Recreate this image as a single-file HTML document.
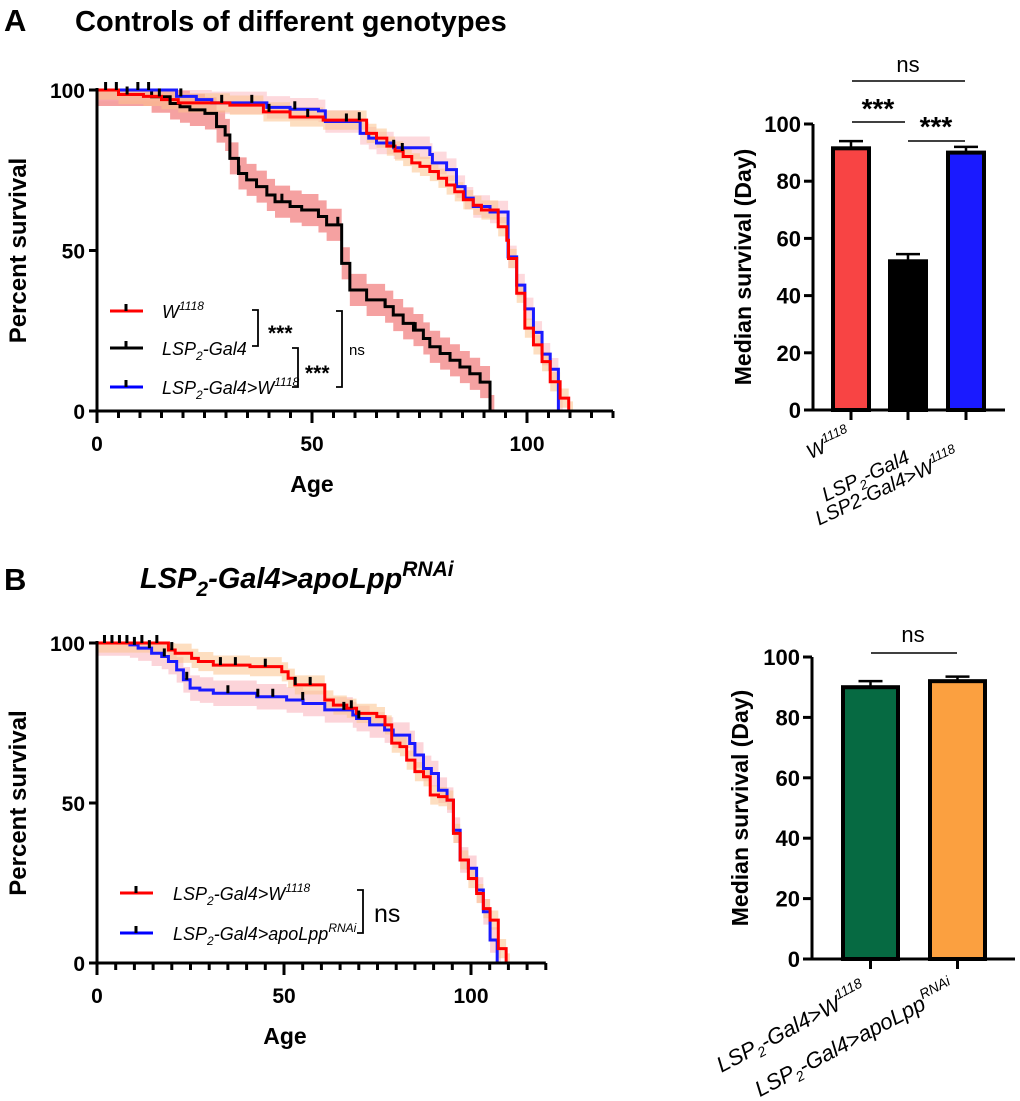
<!DOCTYPE html>
<html><head><meta charset="utf-8"><style>
body{margin:0;background:#fff}
svg{display:block;font-family:"Liberation Sans",Arial,sans-serif}
</style></head><body>
<svg id="fig" width="1020" height="1101" viewBox="0 0 1020 1101" xmlns="http://www.w3.org/2000/svg">
<text x="4" y="31" font-size="31" font-weight="bold">A</text>
<text x="75" y="31" font-size="29" font-weight="bold">Controls of different genotypes</text>
<text x="4" y="590" font-size="31" font-weight="bold">B</text>
<text x="140" y="588" font-size="29" font-weight="bold" font-style="italic">LSP<tspan font-size="21" dy="8">2</tspan><tspan dy="-8">-Gal4&gt;apoLpp</tspan><tspan font-size="21" dy="-12">RNAi</tspan></text>
<g id="gA"></g><g id="gB"></g><g id="gC"></g><g id="gD"></g>
</svg>
<script>
// ---------- data ----------
const aRedT=[0,5,10.8,15,18.9,30.9,38.7,44.9,52.6,62.7,65,67.4,69.3,71.2,73.2,75.1,77.4,79.4,81.3,83.2,85.2,87.5,89.4,93.3,95.3,95.7,97.6,99.5,101.5,103.5,105.4,107.7,109.7];
const aRedS=[100,98.6,98,97,96,95.3,93.2,91.6,90.6,86.5,85,82.5,81,79.3,77.3,76.2,74.6,72.5,70.4,68.3,65.8,64.1,62.6,57.4,53.2,47.5,36.7,25.8,20.6,15.4,9.1,4,0];
const aBlkT=[0,12.7,17,19.3,21.6,25.1,27.8,29.8,30.9,32.9,34.8,37.1,39.5,41.4,44.9,47.6,51.5,53.4,56.9,58.8,62.7,67,68.9,71.2,73.6,75.9,77.4,79.8,82.1,84.4,86.7,89.1,91.4];
const aBlkS=[100,97.9,95.8,94.8,93.8,92.7,88.6,86,78.7,74,72,69.9,67.3,65.2,63.7,62.6,60.6,58,46,37.7,34.6,32.5,29.9,27.3,25.2,22.6,20,17.9,15.8,13.7,11.6,9,0];
const aBluT=[0,18.5,23.1,26.7,39.5,44.9,51.5,53.1,61.2,63.2,65,69,77.4,78,81.3,83.6,85.6,87.5,91.4,95.6,97.6,99.5,101.5,103.5,105.4,107.3];
const aBluS=[100,98,97,96,94.6,94,93.5,90.2,86.5,85,83.5,82,79.9,77.3,75.2,69.9,66.3,63.7,62,48,39.2,31.8,24.5,17.7,13,0];
const aCensorT=[2,4.5,7,9.5,12,14.5,17,19.5,29,33,36,40,43,46,49,56,58,61,67,69,71,74];
const bRedT=[0,19.1,20.9,25.3,27.1,31.1,40.9,49.4,51.1,52.9,60.9,63.2,66.8,69.4,74.8,77,78.8,81,82.8,85,87.3,89.1,91.3,93.6,95.3,97.1,99.3,101.5,103.3,105.1,107.3,109.4];
const bRedS=[100,97.8,96.8,95.2,94.2,93.1,92.6,91,89,86.9,82.2,80.6,79.6,78,77,74.4,68.7,67.6,63.4,59.8,58.2,52.5,52,50.9,40.5,32.2,26.4,21.7,17,13.4,4.5,0];
const bBluT=[0,8.8,11,14.6,17.3,19.1,21.3,23.1,24.9,27.5,31.1,42.7,50.7,55.1,60.9,68.4,69.4,72.9,76.9,79.2,83.6,85,87.3,89.4,91.3,93.6,95.3,97.1,99.3,101.5,103.3,105.1,107];
const bBluS=[100,99.4,98.4,96.8,95.8,94.2,91.6,88.5,85.9,85.3,84.3,83.2,82.2,81.1,79.1,77.5,76.4,74.4,72.8,71.2,68.6,65,60.8,59.2,54,50.9,41.5,32.2,29.6,22.8,16,7.2,0];
const bCensorT=[2,4,6,8,10,12,14,16,18,20,24,33,35,37,43,45,47,53,55,57,66,68,70];
const barACats=["W1118","LSP2-Gal4","LSP2-Gal4>W1118"];
const barAVals=[91.5,52,90];
const barAErr=[2.5,2.5,2];
const barBCats=["LSP2-Gal4>W1118","LSP2-Gal4>apoLppRNAi"];
const barBVals=[90,92];
const barBErr=[2,1.5];
const yTicksSurv=[0,50,100];
const xTicksAge=[0,50,100];
const yTicksBar=[0,20,40,60,80,100];

const NS="http://www.w3.org/2000/svg";
function mk(parent,tag,attrs,txt){const e=document.createElementNS(NS,tag);for(const k in attrs)e.setAttribute(k,attrs[k]);if(txt!==undefined)e.textContent=txt;parent.appendChild(e);return e;}
function stepPath(T,S,X,Y,off){let d=`M${X(T[0])},${Y(Math.min(100,S[0]+off))}`;for(let i=1;i<T.length;i++){d+=` H${X(T[i])} V${Y(Math.max(0,Math.min(100,S[i]+off)))}`;}return d;}
function band(T,S,X,Y,ci){let up=[],lo=[];for(let i=0;i<T.length;i++){const t1=i<T.length-1?T[i+1]:T[i]+1;const u=Math.min(100,S[i]+ci),l=Math.max(0,S[i]-ci);up.push([X(T[i]),Y(u)],[X(t1),Y(u)]);lo.push([X(T[i]),Y(l)],[X(t1),Y(l)]);}return "M"+up.concat(lo.reverse()).map(p=>p.join(",")).join(" L")+"Z";}
function valAt(T,S,t){let s=S[0];for(let i=0;i<T.length;i++){if(T[i]<=t)s=S[i];}return s;}

function survPanel(g,o){
  const X=t=>o.x0+t*o.kx, Y=s=>o.y0-s*o.ky;
  o.series.forEach(sr=>{const p=mk(g,'path',{d:band(sr.T,sr.S,X,Y,sr.ci),fill:sr.bc,stroke:'none'});
    
    });
  o.series.forEach(sr=>{const p=mk(g,'path',{d:stepPath(sr.T,sr.S,X,Y,0),fill:'none',stroke:sr.c,'stroke-width':3});
    
    });
  o.censor.forEach((t,i)=>{const sr=o.series[i%o.series.length];const s=valAt(sr.T,sr.S,t);const l=mk(g,'line',{x1:X(t),x2:X(t),y1:Y(s),y2:Y(s)-8,stroke:'#000','stroke-width':3});
    
    });
  const ax=mk(g,'path',{d:`M${X(0)},${Y(100)-2} V${Y(0)} H${X(120)}`,fill:'none',stroke:'#000','stroke-width':3});
  
  
  for(let t=0;t<=120;t+=5){const maj=t%50===0;mk(g,'line',{x1:X(t),x2:X(t),y1:Y(0),y2:Y(0)+(maj?12:7),stroke:'#000','stroke-width':3});}
  xTicksAge.forEach(t=>{const e=mk(g,'text',{x:X(t),y:Y(0)+40,'text-anchor':'middle','font-size':21,'font-weight':'bold'},t);
    
    });
  yTicksSurv.forEach(s=>{mk(g,'line',{x1:X(0)-8,x2:X(0),y1:Y(s),y2:Y(s),stroke:'#000','stroke-width':3});
    const e=mk(g,'text',{x:X(0)-12,y:Y(s)+8,'text-anchor':'end','font-size':21,'font-weight':'bold'},s);
    
    });
  const xt=mk(g,'text',{x:o.ageX,y:o.ageY,'text-anchor':'middle','font-size':23,'font-weight':'bold'},'Age');
  
  
  const yt=mk(g,'text',{x:0,y:0,transform:`translate(26,${Y(50)}) rotate(-90)`,'text-anchor':'middle','font-size':24,'font-weight':'bold'},'Percent survival');
  
  
}
survPanel(document.getElementById('gA'),{x0:97,kx:4.3,y0:411,ky:3.21,ageX:312,ageY:492,
 series:[{name:'lsp2-gal4',T:aBlkT,S:aBlkS,c:'#000',bc:'rgba(240,110,110,0.65)',ci:5},
         {name:'lsp2-gal4-w1118',T:aBluT,S:aBluS,c:'#1a1aff',bc:'rgba(250,170,180,0.45)',ci:3.5},
         {name:'w1118',T:aRedT,S:aRedS,c:'#ff0000',bc:'rgba(252,195,140,0.55)',ci:3}],censor:aCensorT});
survPanel(document.getElementById('gB'),{x0:97,kx:3.74,y0:963,ky:3.2,ageX:285,ageY:1044,
 series:[{name:'lsp2-gal4-apolpp-rnai',T:bBluT,S:bBluS,c:'#1a1aff',bc:'rgba(250,170,180,0.5)',ci:4},
         {name:'lsp2-gal4-w1118',T:bRedT,S:bRedS,c:'#ff0000',bc:'rgba(252,195,140,0.55)',ci:3}],censor:bCensorT});

function barPanel(g,o){
  const Y=v=>o.y0-v*o.ky;
  o.vals.forEach((v,i)=>{const x=o.bx[i];
    const r=mk(g,'rect',{x:x,y:Y(v),width:o.bw,height:Y(0)-Y(v),fill:o.cols[i],stroke:'#000','stroke-width':4});
    
    
    const cx=x+o.bw/2;
    mk(g,'path',{d:`M${cx},${Y(v)} V${Y(v+o.err[i])} M${cx-12},${Y(v+o.err[i])} H${cx+12}`,stroke:'#000','stroke-width':2.5,fill:'none'});
    mk(g,'line',{x1:cx,x2:cx,y1:Y(0),y2:Y(0)+10,stroke:'#000','stroke-width':3});});
  const ax=mk(g,'path',{d:`M${o.ax},${Y(100)} V${Y(0)} H${o.axEnd}`,fill:'none',stroke:'#000','stroke-width':3});
  
  
  yTicksBar.forEach(v=>{mk(g,'line',{x1:o.ax-9,x2:o.ax,y1:Y(v),y2:Y(v),stroke:'#000','stroke-width':3});
    const e=mk(g,'text',{x:o.ax-12,y:Y(v)+8,'text-anchor':'end','font-size':22,'font-weight':'bold'},v);
    
    });
  const yt=mk(g,'text',{x:0,y:0,transform:`translate(${o.ytx},${Y(50)}) rotate(-90)`,'text-anchor':'middle','font-size':23,'font-weight':'bold'},'Median survival (Day)');
  
  
}
barPanel(document.getElementById('gC'),{cats:barACats,vals:barAVals,err:barAErr,y0:410,ky:2.86,bx:[833,890,948],bw:36,cols:['#f84444','#000','#1a1aff'],ax:813,axEnd:1005,ytx:751});
barPanel(document.getElementById('gD'),{cats:barBCats,vals:barBVals,err:barBErr,y0:959,ky:3.02,bx:[843,930],bw:55,cols:['#066a42','#fba040'],ax:812,axEnd:1015,ytx:748});
</script>
<script>
const svg=document.getElementById('fig');
svg.insertAdjacentHTML('beforeend',`
<g font-size="18" font-style="italic">
<line x1="110" x2="143" y1="311" y2="311" stroke="#f00" stroke-width="3"/><line x1="126" x2="126" y1="311" y2="304" stroke="#000" stroke-width="3"/>
<text x="162" y="318">W<tspan font-size="12" dy="-8">1118</tspan></text>
<line x1="110" x2="143" y1="348" y2="348" stroke="#000" stroke-width="3"/><line x1="126" x2="126" y1="348" y2="341" stroke="#000" stroke-width="3"/>
<text x="162" y="355">LSP<tspan font-size="12" dy="5">2</tspan><tspan dy="-5">-Gal4</tspan></text>
<line x1="110" x2="143" y1="387" y2="387" stroke="#00f" stroke-width="3"/><line x1="126" x2="126" y1="387" y2="380" stroke="#000" stroke-width="3"/>
<text x="162" y="394">LSP<tspan font-size="12" dy="5">2</tspan><tspan dy="-5">-Gal4&gt;W</tspan><tspan font-size="12" dy="-8">1118</tspan></text>
</g>
<g fill="none" stroke="#000" stroke-width="1.8">
<path d="M252,310 H258 V346 H252"/><path d="M292,348 H298 V387 H292"/><path d="M336,311 H342 V387 H336"/></g>
<text x="268" y="340" font-size="21" font-weight="bold">***</text>
<text x="305" y="380" font-size="21" font-weight="bold">***</text>
<text x="349" y="355" font-size="15">ns</text>
<g font-size="18" font-style="italic">
<line x1="120" x2="153" y1="893" y2="893" stroke="#f00" stroke-width="3"/><line x1="136" x2="136" y1="893" y2="886" stroke="#000" stroke-width="3"/>
<text x="173" y="900">LSP<tspan font-size="12" dy="5">2</tspan><tspan dy="-5">-Gal4&gt;W</tspan><tspan font-size="12" dy="-8">1118</tspan></text>
<line x1="120" x2="153" y1="933" y2="933" stroke="#00f" stroke-width="3"/><line x1="136" x2="136" y1="933" y2="926" stroke="#000" stroke-width="3"/>
<text x="173" y="940">LSP<tspan font-size="12" dy="5">2</tspan><tspan dy="-5">-Gal4&gt;apoLpp</tspan><tspan font-size="12" dy="-8">RNAi</tspan></text>
</g>
<path d="M357,890 H363 V933 H357" fill="none" stroke="#000" stroke-width="1.8"/>
<text x="374" y="922" font-size="25">ns</text>
<g stroke="#000" stroke-width="1.5">
<line x1="852" x2="965" y1="81" y2="81"/><line x1="852" x2="905" y1="122" y2="122"/><line x1="908" x2="965" y1="141" y2="141"/></g>
<text x="908" y="72" font-size="22" text-anchor="middle">ns</text>
<text x="878" y="118" font-size="28" font-weight="bold" text-anchor="middle">***</text>
<text x="936" y="136" font-size="28" font-weight="bold" text-anchor="middle">***</text>
<line x1="871" x2="957" y1="653" y2="653" stroke="#000" stroke-width="1.5"/>
<text x="913" y="642" font-size="22" text-anchor="middle">ns</text>
<g font-size="20" font-style="italic" text-anchor="end">
<text transform="translate(852,440) rotate(-25)">W<tspan font-size="13" dy="-9">1118</tspan></text>
<text transform="translate(911,462) rotate(-25)">LSP<tspan font-size="13" dy="5">2</tspan><tspan dy="-5">-Gal4</tspan></text>
<text transform="translate(960,460) rotate(-25)">LSP2-Gal4&gt;W<tspan font-size="13" dy="-9">1118</tspan></text>
</g>
<g font-size="22" font-style="italic" text-anchor="end">
<text transform="translate(868,995) rotate(-28)">LSP<tspan font-size="14" dy="5">2</tspan><tspan dy="-5">-Gal4&gt;W</tspan><tspan font-size="14" dy="-10">1118</tspan></text>
<text transform="translate(956,993) rotate(-28)">LSP<tspan font-size="14" dy="5">2</tspan><tspan dy="-5">-Gal4&gt;apoLpp</tspan><tspan font-size="14" dy="-10">RNAi</tspan></text>
</g>`);
</script>
</body></html>
